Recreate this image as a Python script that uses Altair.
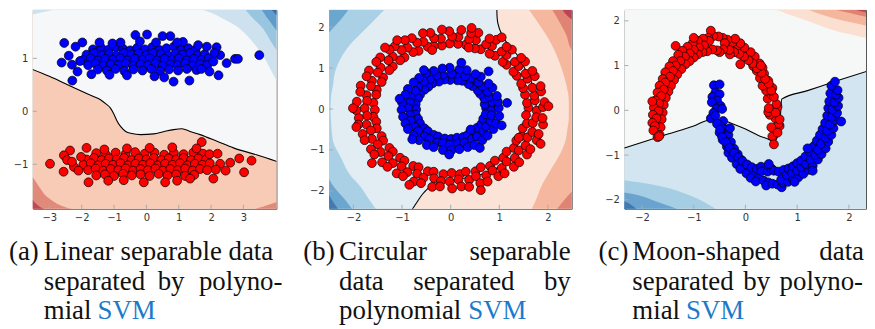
import altair as alt
import pandas as pd

# ---------------- Panel (a): linear separable data ----------------
A_BLUE = [
    (-1.65,1.17),(-1.40,1.20),(-1.18,1.16),(-0.95,1.21),(-0.72,1.18),(-0.50,1.15),(-0.28,1.20),(-0.05,1.17),(0.18,1.21),(0.40,1.16),(0.62,1.19),(0.85,1.22),(1.08,1.17),(1.30,1.19),(1.52,1.16),
    (-1.85,1.07),(-1.62,1.10),(-1.38,1.06),(-1.15,1.09),(-0.92,1.05),(-0.70,1.10),(-0.46,1.07),(-0.24,1.09),(0.00,1.06),(0.22,1.10),(0.45,1.08),(0.68,1.05),(0.90,1.09),(1.12,1.07),(1.35,1.10),(1.58,1.06),(1.80,1.08),
    (-1.95,0.97),(-1.72,1.00),(-1.50,0.96),(-1.27,0.99),(-1.04,0.97),(-0.81,1.00),(-0.58,0.96),(-0.35,0.99),(-0.12,0.97),(0.10,1.00),(0.33,0.96),(0.56,0.99),(0.79,0.97),(1.01,1.00),(1.24,0.96),(1.47,0.99),(1.70,0.97),(1.93,1.00),
    (-1.80,0.87),(-1.57,0.90),(-1.33,0.86),(-1.10,0.89),(-0.87,0.87),(-0.64,0.90),(-0.41,0.86),(-0.18,0.89),(0.05,0.87),(0.28,0.90),(0.51,0.86),(0.74,0.89),(0.97,0.87),(1.20,0.90),(1.43,0.86),(1.66,0.89),(1.88,0.87),
    (-1.50,0.79),(-1.22,0.77),(-0.95,0.80),(-0.68,0.76),(-0.40,0.79),(-0.12,0.77),(0.15,0.80),(0.42,0.76),(0.70,0.79),(0.98,0.77),(1.25,0.80),(1.55,0.78),
    (-2.54,1.29),(-2.62,0.92),(-2.29,0.58),(-2.13,0.75),(-1.98,1.30),(-2.19,1.22),(-0.34,1.44),(0.02,1.45),(0.50,1.42),(0.74,1.42),(1.13,1.31),(0.84,0.56),(1.33,0.58),(2.23,0.68),(2.28,1.06),(2.48,0.91),(2.74,0.99),(2.83,0.99),(3.49,1.06),(1.87,1.22),(2.17,1.21),(2.07,0.94),(-1.14,0.69),(-2.40,1.05),(-2.05,0.95),(-1.45,1.30),(-0.80,1.30),(-0.20,1.32),(0.30,1.30),(1.60,1.25),(1.95,0.75),(2.10,1.10),(-0.60,0.68),(0.25,0.66),(0.55,0.64),(1.70,0.80),(-1.70,0.70),(-2.30,0.88),(0.95,1.30),(-1.05,1.28),
]
A_RED = [
    (-1.55,-0.79),(-1.25,-0.82),(-0.95,-0.78),(-0.65,-0.81),(-0.35,-0.77),(-0.05,-0.80),(0.25,-0.78),(0.55,-0.82),(0.85,-0.79),(1.15,-0.81),(1.45,-0.78),(1.75,-0.80),
    (-1.85,-0.91),(-1.62,-0.88),(-1.38,-0.92),(-1.15,-0.89),(-0.92,-0.91),(-0.69,-0.88),(-0.46,-0.92),(-0.23,-0.89),(0.00,-0.91),(0.23,-0.88),(0.46,-0.92),(0.69,-0.89),(0.92,-0.91),(1.15,-0.88),(1.38,-0.92),(1.61,-0.89),(1.84,-0.91),
    (-1.95,-1.01),(-1.72,-0.98),(-1.49,-1.02),(-1.26,-0.99),(-1.03,-1.01),(-0.80,-0.98),(-0.57,-1.02),(-0.34,-0.99),(-0.11,-1.01),(0.12,-0.98),(0.35,-1.02),(0.58,-0.99),(0.81,-1.01),(1.04,-0.98),(1.27,-1.02),(1.50,-0.99),(1.73,-1.01),(1.96,-0.98),
    (-1.80,-1.11),(-1.57,-1.08),(-1.33,-1.12),(-1.10,-1.09),(-0.87,-1.11),(-0.64,-1.08),(-0.41,-1.12),(-0.18,-1.09),(0.05,-1.11),(0.28,-1.08),(0.51,-1.12),(0.74,-1.09),(0.97,-1.11),(1.20,-1.08),(1.43,-1.12),(1.66,-1.09),(1.88,-1.11),
    (-1.55,-1.21),(-1.28,-1.19),(-1.00,-1.22),(-0.72,-1.18),(-0.45,-1.21),(-0.18,-1.19),(0.10,-1.22),(0.38,-1.18),(0.65,-1.21),(0.92,-1.19),(1.20,-1.22),(1.48,-1.20),
    (-2.98,-0.99),(-2.56,-1.14),(-2.36,-0.74),(-1.85,-0.69),(-1.79,-1.34),(-2.24,-1.05),(-2.55,-0.83),(1.71,-0.58),(2.87,-0.89),(3.25,-0.93),(3.02,-1.15),(2.07,-1.27),(-1.18,-1.31),(-0.08,-1.34),(0.58,-1.34),(1.35,-1.27),(1.95,-0.81),(2.28,-0.99),(2.59,-0.97),(-2.45,-0.92),(-2.10,-1.12),(-0.60,-0.70),(0.10,-0.69),(0.80,-0.68),(-1.30,-0.72),(2.20,-0.80),(2.45,-1.12),(-0.70,-1.30),(0.95,-1.31),(-2.02,-0.86),(1.55,-0.70),(2.15,-1.10),(-2.30,-0.95),
]
A_BOUNDARY = [(-3.60,0.81),(-3.0,0.66),(-2.5,0.52),(-2.0,0.38),(-1.6,0.27),(-1.42,0.22),(-1.25,0.14),(-1.11,0.06),(-1.0,-0.06),(-0.90,-0.19),(-0.78,-0.30),(-0.65,-0.375),(-0.45,-0.42),(-0.185,-0.44),(0.225,-0.425),(0.55,-0.38),(0.84,-0.345),(1.10,-0.33),(1.35,-0.38),(1.66,-0.44),(2.2,-0.57),(2.69,-0.69),(3.4,-0.82),(4.10,-0.96)]
A_SALMON_BL = [(-3.60,-1.20),(-3.51,-1.25),(-3.3,-1.44),(-3.16,-1.56),(-2.95,-1.67),(-2.75,-1.75),(-2.5,-1.81),(-2.29,-1.845),(-2.2,-1.86)]
A_SALMON_BR = [(3.25,-1.87),(3.35,-1.845),(3.6,-1.80),(3.85,-1.75),(4.10,-1.70)]
A_RED_BL = [(-3.60,-1.60),(-3.45,-1.72),(-3.3,-1.80),(-3.15,-1.845),(-3.05,-1.87)]
A_BLUE1 = [(1.40,1.99),(1.56,1.95),(2.0,1.86),(2.4,1.74),(2.89,1.56),(3.3,1.30),(3.71,0.94),(3.9,0.72),(4.10,0.50)]
A_BLUE2 = [(2.85,1.99),(2.99,1.95),(3.3,1.75),(3.61,1.56),(3.85,1.32),(4.10,1.08)]
A_BLUE3 = [(3.40,1.99),(3.51,1.95),(3.75,1.75),(4.10,1.46)]
A_BLUE4 = [(3.75,1.99),(3.82,1.95),(4.10,1.76)]
A_BLUE_TL = [(-3.60,1.81),(-3.3,1.86),(-3.0,1.90),(-2.7,1.93),(-2.5,1.96)]

# ---------------- Panel (b): circular data ----------------
B_RED = [
    (1.60,0.03),(1.57,0.15),(1.53,0.35),(1.49,0.51),(1.45,0.62),(1.36,0.81),(1.29,0.91),(1.15,1.08),(1.07,1.15),(0.91,1.30),(0.80,1.35),(0.62,1.46),(0.50,1.48),(0.31,1.57),(0.15,1.59),
    (1.77,-0.04),(1.73,0.21),(1.72,0.33),(1.68,0.52),(1.58,0.74),(1.54,0.86),(1.40,1.05),(1.32,1.15),(1.15,1.32),(1.05,1.40),(0.85,1.54),(0.73,1.58),(0.52,1.68),(0.38,1.70),(0.16,1.76),
    (1.90,0.05),(1.93,0.17),(1.86,0.43),(1.85,0.56),(1.73,0.80),(1.68,0.93),(1.53,1.16),(1.45,1.25),(1.26,1.45),(1.15,1.52),(0.94,1.69),(0.80,1.72),(0.57,1.86),(0.42,1.85),(0.22,1.93),
    (-0.02,1.60),(-0.18,1.55),(-0.35,1.54),(-0.47,1.52),(-0.66,1.42),(-0.77,1.39),(-0.95,1.26),(-1.04,1.19),(-1.19,1.04),(-1.26,0.95),(-1.39,0.77),(-1.42,0.66),(-1.52,0.47),(-1.53,0.35),(-1.59,0.15),
    (0.03,1.77),(-0.20,1.72),(-0.34,1.73),(-0.56,1.64),(-0.69,1.62),(-0.89,1.50),(-1.01,1.44),(-1.19,1.28),(-1.28,1.19),(-1.44,1.01),(-1.50,0.89),(-1.62,0.69),(-1.64,0.56),(-1.73,0.34),(-1.72,0.20),
    (-0.03,1.90),(-0.18,1.94),(-0.42,1.86),(-0.57,1.85),(-0.80,1.73),(-0.94,1.68),(-1.15,1.53),(-1.26,1.45),(-1.45,1.26),(-1.53,1.15),(-1.68,0.94),(-1.73,0.80),(-1.85,0.57),(-1.86,0.42),(-1.93,0.18),
    (-1.56,-0.02),(-1.59,-0.19),(-1.53,-0.31),(-1.52,-0.47),(-1.42,-0.66),(-1.39,-0.77),(-1.26,-0.95),(-1.19,-1.04),(-1.04,-1.19),(-0.95,-1.26),(-0.77,-1.39),(-0.66,-1.42),(-0.47,-1.52),(-0.35,-1.53),(-0.15,-1.59),
    (-1.77,0.02),(-1.72,-0.16),(-1.73,-0.38),(-1.64,-0.52),(-1.62,-0.73),(-1.50,-0.86),(-1.44,-1.05),(-1.28,-1.15),(-1.19,-1.32),(-1.01,-1.40),(-0.89,-1.54),(-0.69,-1.58),(-0.56,-1.68),(-0.34,-1.69),(-0.20,-1.76),
    (-1.94,-0.03),(-1.89,-0.22),(-1.90,-0.38),(-1.81,-0.61),(-1.77,-0.76),(-1.64,-0.98),(-1.57,-1.11),(-1.41,-1.30),(-1.30,-1.41),(-1.11,-1.57),(-0.98,-1.64),(-0.76,-1.77),(-0.61,-1.81),(-0.38,-1.90),(-0.22,-1.89),
    (0.02,-1.56),(0.19,-1.59),(0.31,-1.53),(0.51,-1.52),(0.62,-1.42),(0.81,-1.39),(0.91,-1.26),(1.08,-1.19),(1.15,-1.04),(1.30,-0.95),(1.35,-0.77),(1.46,-0.66),(1.48,-0.47),(1.57,-0.35),(1.55,-0.15),
    (-0.02,-1.77),(0.16,-1.72),(0.38,-1.73),(0.52,-1.64),(0.73,-1.62),(0.86,-1.50),(1.05,-1.44),(1.15,-1.28),(1.32,-1.19),(1.40,-1.01),(1.54,-0.89),(1.58,-0.69),(1.68,-0.56),(1.69,-0.34),(1.76,-0.20),
    (0.03,-1.94),(0.22,-1.89),(0.38,-1.90),(0.61,-1.81),(0.76,-1.77),(0.98,-1.64),(1.11,-1.57),(1.30,-1.41),(1.41,-1.30),(1.57,-1.11),(1.64,-0.98),(1.77,-0.76),(1.81,-0.61),(1.90,-0.38),(1.89,-0.22),
    (0.43,1.98),(-0.38,1.44),(0.37,1.50),(-1.94,-0.44),(-1.62,-1.32),(2.01,0.07),(-2.01,0.02),(1.40,-0.70),(1.05,1.75),(-1.35,1.50),(1.85,-0.85),(-0.85,-1.85),(0.62,-1.98),(-1.10,1.68),
]
B_BLUE = [
    (0.73,0.02),(0.70,0.12),(0.69,0.26),(0.61,0.37),(0.56,0.45),(0.45,0.56),(0.37,0.61),(0.24,0.69),(0.14,0.70),
    (0.85,-0.02),(0.86,0.17),(0.80,0.30),(0.76,0.42),(0.65,0.56),(0.57,0.65),(0.42,0.76),(0.30,0.80),(0.13,0.87),
    (0.99,0.03),(0.97,0.18),(0.95,0.32),(0.86,0.52),(0.78,0.62),(0.62,0.79),(0.51,0.85),(0.33,0.95),(0.18,0.97),
    (-0.01,0.71),(-0.13,0.72),(-0.24,0.67),(-0.37,0.63),(-0.46,0.54),(-0.54,0.47),(-0.63,0.35),(-0.67,0.26),(-0.72,0.12),
    (0.02,0.86),(-0.16,0.84),(-0.29,0.82),(-0.43,0.73),(-0.55,0.67),(-0.67,0.54),(-0.73,0.44),(-0.82,0.28),(-0.84,0.16),
    (-0.02,1.01),(-0.17,0.99),(-0.35,0.93),(-0.50,0.88),(-0.65,0.76),(-0.76,0.65),(-0.88,0.49),(-0.93,0.35),(-1.00,0.16),
    (-0.71,-0.01),(-0.72,-0.14),(-0.67,-0.24),(-0.63,-0.35),(-0.54,-0.47),(-0.47,-0.54),(-0.35,-0.63),(-0.26,-0.67),(-0.12,-0.72),
    (-0.87,0.02),(-0.84,-0.15),(-0.82,-0.28),(-0.73,-0.44),(-0.67,-0.54),(-0.54,-0.67),(-0.44,-0.73),(-0.28,-0.82),(-0.16,-0.84),
    (-1.01,-0.02),(-0.98,-0.19),(-0.93,-0.35),(-0.88,-0.49),(-0.76,-0.65),(-0.65,-0.76),(-0.49,-0.88),(-0.35,-0.93),(-0.16,-1.00),
    (0.01,-0.73),(0.13,-0.70),(0.26,-0.68),(0.35,-0.63),(0.47,-0.54),(0.54,-0.46),(0.63,-0.37),(0.67,-0.24),(0.72,-0.13),
    (-0.02,-0.87),(0.15,-0.84),(0.28,-0.82),(0.44,-0.73),(0.54,-0.67),(0.67,-0.54),(0.73,-0.43),(0.82,-0.29),(0.84,-0.15),
    (0.02,-1.00),(0.18,-0.98),(0.35,-0.93),(0.49,-0.88),(0.65,-0.76),(0.76,-0.65),(0.88,-0.49),(0.93,-0.35),(1.00,-0.17),
    (0.22,1.13),(0.78,0.92),(1.16,0.15),(0.41,-0.50),(-0.79,-0.74),(-0.03,-1.11),(-1.05,0.25),(0.60,-0.95),(-0.55,0.95),(1.05,-0.40),
]
# boundary as (y, x) pairs, from top to bottom
B_BOUNDARY = [(2.50,0.95),(2.1,0.97),(1.80,1.06),(1.56,1.19),(1.3,1.38),(1.0,1.52),(0.6,1.68),(0.2,1.75),(-0.2,1.75),(-0.6,1.66),(-1.0,1.42),(-1.3,1.15),(-1.5,0.85),(-1.65,0.45),(-1.72,0.1),(-1.78,-0.15),(-1.88,-0.40),(-2.08,-0.58),(-2.25,-0.68),(-2.50,-0.82)]
B_SALMON = [(2.50,1.57),(2.1,1.80),(1.7,2.02),(1.40,2.15),(1.0,2.28),(0.59,2.38),(0.2,2.43),(-0.2,2.43),(-0.5,2.40),(-0.78,2.36),(-1.1,2.25),(-1.5,2.05),(-1.9,1.86),(-2.2,1.76),(-2.50,1.64)]
B_DARK_T = [(2.50,2.05),(2.1,2.25),(1.8,2.38),(1.5,2.46),(1.32,2.55)]
B_DARK_B = [(-1.95,2.55),(-2.2,2.35),(-2.50,2.15)]
B_DARKEST_T = [(2.50,2.26),(2.3,2.38),(2.13,2.55)]
B_LBLUE = [(2.50,-1.30),(2.2,-1.55),(1.9,-1.80),(1.56,-2.08),(1.2,-2.28),(0.9,-2.38),(0.59,-2.42),(0.3,-2.46),(0.0,-2.47),(-0.3,-2.46),(-0.78,-2.42),(-1.2,-2.25),(-1.59,-2.08),(-1.9,-1.85),(-2.2,-1.68),(-2.50,-1.50)]
B_MBLUE_T = [(2.50,-2.06),(2.2,-2.25),(2.0,-2.40),(1.8,-2.55)]
B_MBLUE_B = [(-1.6,-2.55),(-1.9,-2.40),(-2.2,-2.18),(-2.50,-1.99)]
B_DBLUE_B = [(-2.0,-2.55),(-2.2,-2.45),(-2.50,-2.28)]

# ---------------- Panel (c): moon-shaped data ----------------
C_RED = [
    (0.60,-0.42),(0.52,-0.58),(0.55,-0.76),(0.66,-0.35),
    (0.64,-0.30),(0.50,-0.38),(0.58,-0.18),
    (0.47,-0.10),(0.66,-0.20),(0.54,0.02),
    (0.62,0.08),(0.44,-0.04),(0.58,-0.05),
    (0.43,0.26),(0.60,0.14),(0.50,0.35),
    (0.55,0.30),(0.40,0.44),(0.52,0.50),
    (0.33,0.55),(0.50,0.44),(0.44,0.66),
    (0.28,0.72),(0.45,0.60),(0.36,0.82),
    (0.22,0.88),(0.38,0.70),(0.33,0.95),
    (0.15,0.99),(0.31,0.84),(0.27,1.05),
    (0.08,1.12),(0.22,0.94),(0.18,1.20),
    (0.00,1.24),(0.14,1.05),(0.10,1.30),
    (-0.08,1.35),(0.06,1.12),(-0.02,1.40),
    (-0.15,1.45),(-0.03,1.20),(-0.10,1.50),
    (-0.25,1.52),(-0.12,1.26),(-0.20,1.60),
    (-0.35,1.58),(-0.22,1.30),(-0.30,1.25),
    (-0.44,1.62),(-0.31,1.35),(-0.40,1.50),
    (-0.52,1.65),(-0.43,1.36),(-0.50,1.30),
    (-0.62,1.66),(-0.55,1.34),(-0.67,1.78),
    (-0.72,1.62),(-0.64,1.36),(-0.70,1.55),
    (-0.82,1.60),(-0.74,1.32),(-0.80,1.45),
    (-0.92,1.55),(-0.83,1.30),(-0.90,1.40),
    (-1.02,1.50),(-0.92,1.25),(-1.00,1.35),
    (-1.12,1.42),(-1.00,1.18),(-1.08,1.27),
    (-1.22,1.33),(-1.08,1.10),(-1.17,1.20),
    (-1.30,1.24),(-1.16,1.03),(-1.26,1.10),
    (-1.40,1.10),(-1.24,0.92),(-1.35,1.00),
    (-1.47,0.98),(-1.32,0.80),(-1.40,0.88),
    (-1.55,0.85),(-1.38,0.68),(-1.46,0.75),
    (-1.60,0.70),(-1.44,0.55),(-1.55,0.62),
    (-1.66,0.55),(-1.49,0.42),(-1.58,0.46),
    (-1.70,0.40),(-1.54,0.28),(-1.63,0.32),
    (-1.74,0.22),(-1.58,0.12),(-1.67,0.15),
    (-1.77,0.06),(-1.60,-0.05),(-1.68,-0.02),
    (-1.79,-0.10),(-1.62,-0.20),(-1.72,-0.18),
    (-1.80,-0.28),(-1.64,-0.38),(-1.75,-0.35),
    (-1.78,-0.45),(-1.66,-0.55),(-1.70,-0.60),
    (-1.35,1.44),(-0.10,1.03),(0.62,-0.50),(-1.80,0.20),(-1.00,1.62),(0.30,1.00),(0.45,0.05),(-1.67,-0.58),
]
C_BLUE = [
    (-0.61,0.56),(-0.50,0.58),(-0.58,0.40),
    (-0.64,0.30),(-0.50,0.36),(-0.55,0.22),
    (-0.48,0.10),(-0.65,0.18),(-0.56,0.04),
    (-0.62,-0.06),(-0.45,0.03),(-0.67,-0.18),
    (-0.43,-0.24),(-0.58,-0.12),(-0.50,-0.33),
    (-0.55,-0.30),(-0.40,-0.42),(-0.50,-0.50),
    (-0.33,-0.55),(-0.49,-0.43),(-0.44,-0.66),
    (-0.28,-0.71),(-0.45,-0.60),(-0.36,-0.81),
    (-0.22,-0.86),(-0.38,-0.71),(-0.33,-0.95),
    (-0.15,-0.98),(-0.31,-0.84),(-0.26,-1.06),
    (-0.08,-1.11),(-0.22,-0.95),(-0.17,-1.20),
    (0.00,-1.23),(-0.14,-1.05),(-0.10,-1.31),
    (0.08,-1.34),(-0.06,-1.13),(0.02,-1.41),
    (0.15,-1.45),(0.03,-1.21),(0.10,-1.51),
    (0.25,-1.52),(0.12,-1.27),(0.20,-1.59),
    (0.35,-1.57),(0.22,-1.31),(0.30,-1.26),
    (0.44,-1.61),(0.31,-1.36),(0.40,-1.68),
    (0.52,-1.64),(0.43,-1.37),(0.50,-1.30),
    (0.62,-1.66),(0.55,-1.35),(0.70,-1.72),
    (0.72,-1.62),(0.64,-1.37),(0.69,-1.55),
    (0.82,-1.60),(0.74,-1.33),(0.80,-1.45),
    (0.92,-1.55),(0.83,-1.30),(0.90,-1.40),
    (1.02,-1.50),(0.92,-1.25),(1.00,-1.35),
    (1.12,-1.42),(1.00,-1.18),(1.08,-1.27),
    (1.22,-1.33),(1.08,-1.12),(1.17,-1.20),
    (1.30,-1.24),(1.16,-1.03),(1.26,-1.10),
    (1.40,-1.10),(1.24,-0.92),(1.35,-1.00),
    (1.47,-0.98),(1.32,-0.80),(1.40,-0.88),
    (1.55,-0.85),(1.38,-0.68),(1.46,-0.75),
    (1.60,-0.70),(1.44,-0.55),(1.55,-0.62),
    (1.66,-0.55),(1.49,-0.42),(1.58,-0.46),
    (1.70,-0.40),(1.54,-0.28),(1.63,-0.32),
    (1.74,-0.22),(1.58,-0.12),(1.67,-0.15),
    (1.77,-0.06),(1.60,0.05),(1.68,0.02),
    (1.79,0.10),(1.62,0.20),(1.72,0.18),
    (1.80,0.28),(1.64,0.38),(1.75,0.35),
    (1.78,0.45),(1.66,0.55),(1.73,0.64),
    (0.45,-1.20),(1.20,-0.85),(1.85,-0.25),(-0.30,-0.40),(0.95,-1.60),(1.30,-1.35),
]
C_BOUNDARY = [(-2.45,-0.88),(-2.34,-0.84),(-1.5,-0.53),(-1.0,-0.35),(-0.67,-0.21),(-0.45,-0.22),(-0.25,-0.30),(0.0,-0.42),(0.25,-0.56),(0.45,-0.65),(0.55,-0.70),(0.62,-0.58),(0.66,-0.35),(0.68,-0.05),(0.70,0.25),(1.2,0.44),(1.8,0.67),(2.45,0.91)]
C_PEACH = [(0.40,2.34),(0.48,2.30),(0.8,2.16),(1.25,1.98),(1.7,1.79),(2.1,1.68),(2.45,1.59)]
C_SALMON = [(1.05,2.34),(1.12,2.30),(1.5,2.13),(1.9,2.00),(2.45,1.87)]
C_DARK = [(1.58,2.34),(1.64,2.30),(2.0,2.18),(2.45,2.06)]
C_DARKEST = [(1.98,2.34),(2.02,2.30),(2.45,2.17)]
C_LBLUE = [(-2.45,-1.55),(-2.0,-1.62),(-1.6,-1.71),(-1.32,-1.80),(-1.0,-1.94),(-0.75,-2.08),(-0.55,-2.22),(-0.50,-2.26)]
C_MBLUE = [(-2.45,-1.82),(-2.0,-1.92),(-1.7,-2.05),(-1.45,-2.15),(-1.30,-2.22),(-1.25,-2.26)]
C_DBLUE = [(-2.45,-2.00),(-2.25,-2.08),(-2.09,-2.22),(-2.05,-2.26)]
C_DDBLUE = [(-2.45,-2.11),(-2.3,-2.22),(-2.26,-2.26)]

LABEL_FONT = "DejaVu Sans"
SERIF = "'Liberation Serif', 'Times New Roman', 'DejaVu Serif', serif"
H = 200


def panel(xdom, ydom, xt, yt, W, base_color, vbands, hbands, line_pts, line_h, blue, red, captions):
    xs = alt.Scale(domain=xdom, nice=False, zero=False)
    ys = alt.Scale(domain=ydom, nice=False, zero=False)
    ax = alt.Axis(values=xt, title=None, ticks=False, domain=False, grid=False, labelPadding=4,
                  labelFont=LABEL_FONT, labelFontSize=10, labelColor="#333", format="d")
    ay = alt.Axis(values=yt, title=None, ticks=False, domain=False, grid=False, labelPadding=5,
                  labelFont=LABEL_FONT, labelFontSize=10, labelColor="#333", format="d")

    def X(f):
        return alt.X(f, type="quantitative", scale=xs, axis=ax)

    def Y(f):
        return alt.Y(f, type="quantitative", scale=ys, axis=ay)

    top = ydom[1] + 0.3
    bot = ydom[0] - 0.3
    left = xdom[0] - 0.3
    right = xdom[1] + 0.3
    layers = []
    base = pd.DataFrame([{"x0": left, "x1": right, "y0": bot, "y1": top}])
    layers.append(alt.Chart(base).mark_rect(color=base_color, clip=True).encode(
        x=X("x0"), x2="x1", y=Y("y0"), y2="y1"))
    for pts, edge, col in vbands:
        df = pd.DataFrame(pts, columns=["x", "y"])
        df["e"] = top if edge == "top" else bot
        layers.append(alt.Chart(df).mark_area(color=col, clip=True, opacity=1,
                                              interpolate="monotone").encode(
            x=X("x"), y=Y("y"), y2="e"))
    for pts, edge, col in hbands:
        df = pd.DataFrame(pts, columns=["y", "x"]).sort_values("y")
        df["e"] = right if edge == "right" else left
        layers.append(alt.Chart(df).mark_area(color=col, clip=True, opacity=1, orient="horizontal",
                                              interpolate="monotone").encode(
            y=Y("y"), x=X("x"), x2="e"))
    if line_h:
        ldf = pd.DataFrame(line_pts, columns=["y", "x"])
    else:
        ldf = pd.DataFrame(line_pts, columns=["x", "y"])
    ldf["i"] = range(len(ldf))
    layers.append(alt.Chart(ldf).mark_line(color="black", strokeWidth=1.1, clip=True,
                                           interpolate="catmull-rom" if line_h else "monotone").encode(
        x=X("x"), y=Y("y"), order="i:Q"))
    xtd = pd.DataFrame({"v": xt})
    ytd = pd.DataFrame({"v": yt})
    layers.append(alt.Chart(xtd).mark_rule(color="#aaaaaa", strokeWidth=1).encode(
        x=X("v"), y=alt.value(H), y2=alt.value(H - 4)))
    layers.append(alt.Chart(ytd).mark_rule(color="#aaaaaa", strokeWidth=1).encode(
        y=Y("v"), x=alt.value(0), x2=alt.value(4)))
    for pts, col in ((blue, "#0000ff"), (red, "#ff0000")):
        pdf = pd.DataFrame(pts, columns=["x", "y"])
        layers.append(alt.Chart(pdf).mark_circle(size=80, color=col, opacity=1, stroke="black",
                                                 strokeWidth=0.7, clip=True).encode(
            x=X("x"), y=Y("y")))
    dummy = pd.DataFrame([{"k": 0}])
    for text, px, py, align, col in captions:
        layers.append(alt.Chart(dummy).mark_text(text=text, align=align, baseline="alphabetic",
                                                 font=SERIF, fontSize=27, color=col).encode(
            x=alt.value(px), y=alt.value(py)))
    return alt.layer(*layers).properties(width=W, height=H)


BLACK = "#111111"
LINK = "#1b7bcb"
L1, L2, L3 = 252, 281.5, 311

cap_a = [
    ("(a)", -24, L1, "left", BLACK), ("Linear separable data", 11, L1, "left", BLACK),
    ("separated", 11, L2, "left", BLACK), ("by", 139, L2, "center", BLACK), ("polyno-", 251, L2, "right", BLACK),
    ("mial", 11, L3, "left", BLACK), ("SVM", 65, L3, "left", LINK),
]
cap_b = [
    ("(b)", -26, L1, "left", BLACK), ("Circular", 10, L1, "left", BLACK), ("separable", 243, L1, "right", BLACK),
    ("data", 10, L2, "left", BLACK), ("separated", 135.5, L2, "center", BLACK), ("by", 243, L2, "right", BLACK),
    ("polynomial", 10, L3, "left", BLACK), ("SVM", 140, L3, "left", LINK),
]
cap_c = [
    ("(c)", -26, L1, "left", BLACK), ("Moon-shaped", 8, L1, "left", BLACK), ("data", 241, L1, "right", BLACK),
    ("separated", 8, L2, "left", BLACK), ("by", 133, L2, "center", BLACK), ("polyno-", 240, L2, "right", BLACK),
    ("mial", 8, L3, "left", BLACK), ("SVM", 62, L3, "left", LINK),
]

pa = panel([-3.51, 4.02], [-1.839, 1.914], [-3, -2, -1, 0, 1, 2, 3], [-1, 0, 1], 245, "#f7cbb6",
           [(A_BOUNDARY, "top", "#f6f7f8"), (A_SALMON_BL, "bottom", "#e08a7a"), (A_SALMON_BR, "bottom", "#e08a7a"),
            (A_RED_BL, "bottom", "#bd4a57"), (A_BLUE1, "top", "#cde2ee"), (A_BLUE2, "top", "#98c6e0"),
            (A_BLUE3, "top", "#5f9ccb"), (A_BLUE4, "top", "#3a6aa3"), (A_BLUE_TL, "top", "#cde2ee")],
           [], A_BOUNDARY, False, A_BLUE, A_RED, cap_a)

pb = panel([-2.50, 2.49], [-2.434, 2.42], [-2, -1, 0, 1, 2], [-2, -1, 0, 1, 2], 244, "#e2edf3",
           [],
           [(B_BOUNDARY, "right", "#fbe4d7"), (B_SALMON, "right", "#f5b79d"), (B_DARK_T, "right", "#df8474"),
            (B_DARK_B, "right", "#df8474"), (B_DARKEST_T, "right", "#bb4352"), (B_LBLUE, "left", "#a9d0e5"),
            (B_MBLUE_T, "left", "#6aa6ce"), (B_MBLUE_B, "left", "#6aa6ce"), (B_DBLUE_B, "left", "#4479b1")],
           B_BOUNDARY, True, B_BLUE, B_RED, cap_b)

pc = panel([-2.34, 2.33], [-2.2, 2.244], [-2, -1, 0, 1, 2], [-2, -1, 0, 1, 2], 243, "#f6f7f7",
           [(C_BOUNDARY, "bottom", "#d3e5f0"), (C_PEACH, "top", "#fbdfd0"), (C_SALMON, "top", "#f4b69c"),
            (C_DARK, "top", "#de8272"), (C_DARKEST, "top", "#bf4755"), (C_LBLUE, "bottom", "#a5cde3"),
            (C_MBLUE, "bottom", "#6aa3ce"), (C_DBLUE, "bottom", "#4377b0"), (C_DDBLUE, "bottom", "#2c568f")],
           [], C_BOUNDARY, False, C_BLUE, C_RED, cap_c)

chart = alt.hconcat(pa, pb, pc, spacing=53, bounds="flush").properties(
    padding={"left": 0, "top": 0, "right": 0, "bottom": 0}
).configure_view(stroke="#555555", strokeWidth=1)

chart.save("out.html", embed_options={"renderer": "svg", "actions": False})
